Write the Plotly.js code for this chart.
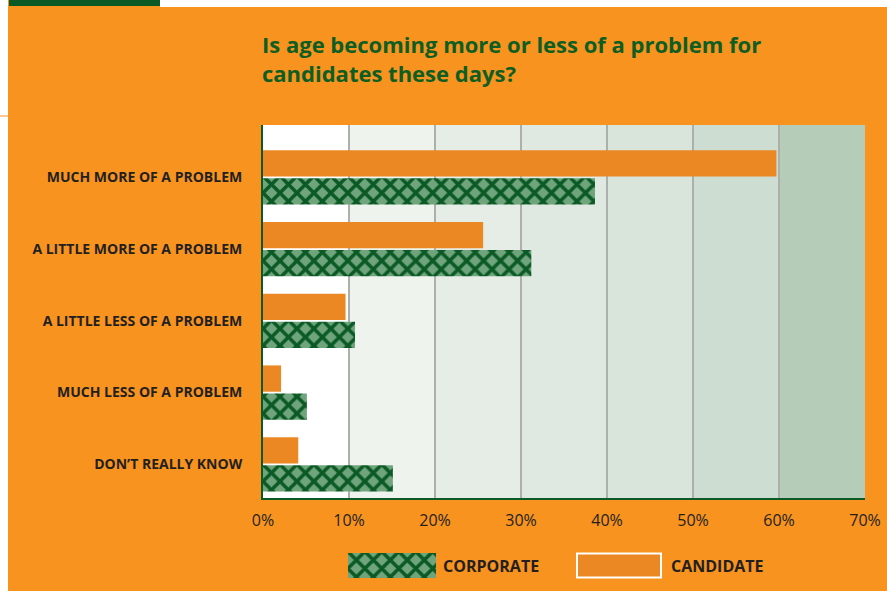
<!DOCTYPE html>
<html>
<head>
<meta charset="utf-8">
<script src="https://cdn.plot.ly/plotly-3.0.1.min.js"></script>
<style>html,body{margin:0;padding:0;background:#fff;}#chart{width:887px;height:591px;}</style>
</head>
<body>
<div id="chart"></div>
<script>
// ---- data ----
var categories = ["MUCH MORE OF A PROBLEM", "A LITTLE MORE OF A PROBLEM", "A LITTLE LESS OF A PROBLEM", "MUCH LESS OF A PROBLEM", "DON\u2019T REALLY KNOW"];
var candidate = [59.7, 25.6, 9.6, 2.1, 4.1];
var corporate = [38.6, 31.2, 10.7, 5.1, 15.1];
var tickVals = [0, 10, 20, 30, 40, 50, 60, 70];
var tickText = ["0%", "10%", "20%", "30%", "40%", "50%", "60%", "70%"];
var seriesNames = ["CORPORATE", "CANDIDATE"];

// ---- styles ----
var W = 887, H = 591;
var ORANGE_BG = "#F7931E", ORANGE_BAR = "#EB8823", GREEN_DARK = "#0B5A25";
var bandColors = ["#FFFFFF", "#EEF3EE", "#E6EDE7", "#DFE9E1", "#D9E4DB", "#CDDDD1", "#B5CCB8"];
var patternStyle = {shape: "x", bgcolor: "#6FA47C", fgcolor: "#0B5A25", size: 12, solidity: 0.5};
var FONT = "Open Sans, sans-serif";
var px = function (x) { return x / W; };
var py = function (y) { return 1 - y / H; };

var yPos = categories.map(function (c, i) { return i; });

var traces = [
  {type: "bar", orientation: "h", name: seriesNames[1], y: yPos, x: candidate,
   marker: {color: ORANGE_BAR}, hoverinfo: "x+name", xaxis: "x", yaxis: "y"},
  {type: "bar", orientation: "h", name: seriesNames[0], y: yPos, x: corporate,
   marker: {color: "#6FA47C", pattern: patternStyle}, hoverinfo: "x+name", xaxis: "x", yaxis: "y"},
  // legend swatches on a full-page pixel-coordinate axis pair
  {type: "bar", orientation: "h", y: [565.5], base: [348], x: [88], width: [25], offset: -12.5,
   marker: {color: "#6FA47C", pattern: patternStyle}, xaxis: "x2", yaxis: "y2", hoverinfo: "skip", showlegend: false},
  {type: "bar", orientation: "h", y: [565.5], base: [577], x: [84], width: [24], offset: -12,
   marker: {color: ORANGE_BAR, line: {color: "#FFFFFF", width: 2}}, xaxis: "x2", yaxis: "y2", hoverinfo: "skip", showlegend: false}
];

var shapes = [];
// background bands
for (var i = 0; i < 7; i++) {
  shapes.push({type: "rect", xref: "x", yref: "y domain", x0: i * 10, x1: (i + 1) * 10, y0: 0, y1: 1,
    fillcolor: bandColors[i], line: {width: 0}, layer: "below"});
}
// page decorations (paper = whole page since margins are 0)
function prect(x0, x1, y0, y1, color) {
  return {type: "rect", xref: "paper", yref: "paper", x0: px(x0), x1: px(x1), y0: py(y1), y1: py(y0),
    fillcolor: color, line: {width: 0}, layer: "below"};
}
shapes.push(prect(0, 8, 0, 591, "#FFFFFF"));
shapes.push(prect(0, 8, 115.5, 116.5, ORANGE_BG));
shapes.push(prect(160, 887, 0, 7, "#FFFFFF"));
shapes.push(prect(9, 160, 0, 6, GREEN_DARK));

var annotations = [
  {xref: "paper", yref: "paper", x: px(260), y: py(27), xanchor: "left", yanchor: "top", align: "left", showarrow: false,
   text: "<b>Is age becoming more or less of a problem for<br>candidates these days?</b>",
   font: {family: FONT, size: 22, color: "#0E5E24"}},
  {xref: "paper", yref: "paper", x: px(441), y: py(566), xanchor: "left", yanchor: "middle", showarrow: false,
   text: "<b>" + seriesNames[0] + "</b>", font: {family: FONT, size: 16, color: "#231F20"}},
  {xref: "paper", yref: "paper", x: px(669), y: py(566), xanchor: "left", yanchor: "middle", showarrow: false,
   text: "<b>" + seriesNames[1] + "</b>", font: {family: FONT, size: 16, color: "#231F20"}}
];

var layout = {
  width: W, height: H,
  margin: {l: 0, r: 0, t: 0, b: 0, pad: 0},
  paper_bgcolor: ORANGE_BG, plot_bgcolor: "rgba(0,0,0,0)",
  showlegend: false,
  barmode: "group", bargap: 0.22, bargroupgap: 0.06,
  font: {family: FONT, color: "#231F20"},
  xaxis: {domain: [px(263), px(865)], range: [0, 70], tickvals: tickVals, ticktext: tickText,
    showgrid: true, gridcolor: "#ADAFAD", gridwidth: 1.5, zeroline: false,
    showline: true, linecolor: GREEN_DARK, linewidth: 2, ticks: "outside", ticklen: 7, tickcolor: "rgba(0,0,0,0)",
    tickfont: {size: 16, color: "#231F20"}, fixedrange: true, anchor: "y"},
  yaxis: {domain: [py(498), py(125)], range: [4.47, -0.73], tickvals: yPos, ticktext: categories,
    showgrid: false, zeroline: false, showline: true, linecolor: GREEN_DARK, linewidth: 2,
    ticks: "outside", ticklen: 16, tickcolor: "rgba(0,0,0,0)",
    tickfont: {size: 14, color: "#231F20", family: FONT, weight: "bold"}, fixedrange: true, anchor: "x"},
  xaxis2: {domain: [0, 1], range: [0, W], visible: false, fixedrange: true, anchor: "y2"},
  yaxis2: {domain: [0, 1], range: [H, 0], visible: false, fixedrange: true, anchor: "x2"},
  shapes: shapes,
  annotations: annotations
};

Plotly.newPlot("chart", traces, layout, {displayModeBar: false, staticPlot: true});
</script>
</body>
</html>
